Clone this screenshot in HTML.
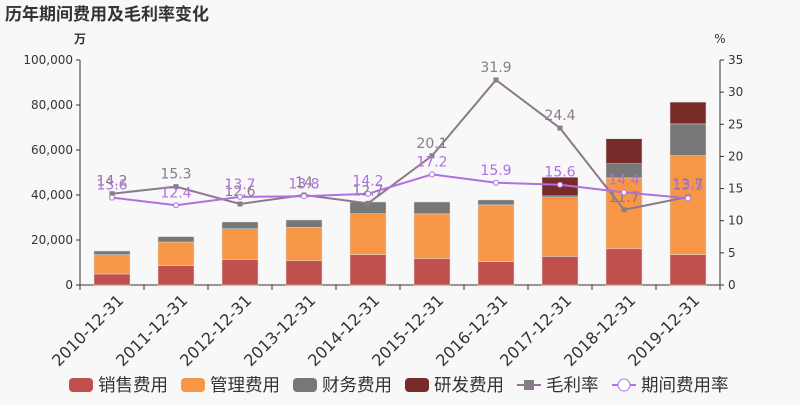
<!DOCTYPE html>
<html><head><meta charset="utf-8"><style>
body{margin:0;background:#f8f8f8;}
svg text{font-family:"DejaVu Sans","Noto Sans CJK SC",sans-serif;}
</style></head><body>
<svg id="c" width="800" height="400" xmlns="http://www.w3.org/2000/svg">
<rect width="800" height="400" fill="#f8f8f8"/>
<text x="5" y="20" font-size="17" font-weight="bold" fill="#333">历年期间费用及毛利率变化</text>
<text x="80" y="43" font-size="12" fill="#333" text-anchor="middle" font-weight="bold">万</text>
<text x="720" y="43" font-size="12" fill="#333" text-anchor="middle">%</text>
<g id="g"></g>
</svg>
<script>
const categories=["2010-12-31","2011-12-31","2012-12-31","2013-12-31","2014-12-31","2015-12-31","2016-12-31","2017-12-31","2018-12-31","2019-12-31"];
const sales=[4900,8600,11300,10800,13500,11700,10400,12700,16100,13500];
const admin=[8600,10500,13700,14800,18200,19900,25200,26100,31500,44000];
const finance=[1600,2400,3000,3300,5200,5300,2200,800,6300,14100];
const rnd=[0,0,0,0,0,0,0,8300,11100,9700];
const grossMargin=[14.2,15.3,12.6,14,12.7,20.1,31.9,24.4,11.7,13.7];
const expenseRate=[13.6,12.4,13.7,13.8,14.2,17.2,15.9,15.6,14.4,13.5];
const leftTicks=[0,20000,40000,60000,80000,100000];
const rightTicks=[0,5,10,15,20,25,30,35];
const NS="http://www.w3.org/2000/svg";
const g=document.getElementById('g');
const X0=80,X1=720,Y0=285,Y1=60;
const bw=(X1-X0)/categories.length;
const yL=v=>Y0-(v/100000)*(Y0-Y1);
const yR=v=>Y0-(v/35)*(Y0-Y1);
const xC=i=>X0+bw*(i+0.5);
function el(t,a,p){const e=document.createElementNS(NS,t);for(const k in a)e.setAttribute(k,a[k]);(p||g).appendChild(e);return e;}
let ax=el('line',{x1:X0,y1:Y1,x2:X0,y2:Y0,stroke:'#333'});


let ax2=el('line',{x1:X1,y1:Y1,x2:X1,y2:Y0,stroke:'#333'});


let ax3=el('line',{x1:X0,y1:Y0,x2:X1,y2:Y0,stroke:'#333'});


leftTicks.forEach(v=>{const y=yL(v);el('line',{x1:X0-4,y1:y,x2:X0,y2:y,stroke:'#333'});
 const t=el('text',{x:X0-7,y:y+4,'font-size':12,fill:'#333','text-anchor':'end'});t.textContent=v.toLocaleString('en-US');
 
 });
rightTicks.forEach(v=>{const y=yR(v);el('line',{x1:X1,y1:y,x2:X1+4,y2:y,stroke:'#333'});
 const t=el('text',{x:X1+8,y:y+4,'font-size':12,fill:'#333'});t.textContent=v;
 
 });
for(let i=0;i<=categories.length;i++){const x=X0+bw*i;el('line',{x1:x,y1:Y0,x2:x,y2:Y0+5,stroke:'#333'});}
const series=[[sales,'#c0504d','sales'],[admin,'#f79646','admin'],[finance,'#777777','finance'],[rnd,'#772c2a','rnd']];
categories.forEach((c,i)=>{
 let cum=0;
 series.forEach(([arr,col,n])=>{const v=arr[i];if(v<=0)return;
  const r=el('rect',{x:xC(i)-18,y:yL(cum+v),width:36,height:yL(cum)-yL(cum+v),fill:col,stroke:'#ddd','stroke-width':0.5});
  
  
  cum+=v;});
 const t=el('text',{transform:`translate(${xC(i)+4},${Y0+8}) rotate(-45)`,'font-size':16,fill:'#333','text-anchor':'end','dominant-baseline':'hanging'});
 t.textContent=c;
 
 
});
function line(arr,col,n,circle){
 const p=el('polyline',{points:arr.map((v,i)=>xC(i)+','+yR(v)).join(' '),fill:'none',stroke:col,'stroke-width':2});
 
 
 arr.forEach((v,i)=>{
  const m=circle?el('circle',{cx:xC(i),cy:yR(v),r:2.5,fill:'#fff',stroke:col}):el('rect',{x:xC(i)-2.5,y:yR(v)-2.5,width:5,height:5,fill:col});
  
  
  const t=el('text',{x:xC(i),y:yR(v)-8,'font-size':14,fill:col,'text-anchor':'middle'});t.textContent=v;
  
  
 });
}
line(grossMargin,'#8b7a8b','gross-margin',false);
line(expenseRate,'#b070e0','expense-rate',true);
const leg=[['销售费用','#c0504d','rect'],['管理费用','#f79646','rect'],['财务费用','#777777','rect'],['研发费用','#772c2a','rect'],['毛利率','#8b7a8b','line'],['期间费用率','#b070e0','circle']];
const legX=[69,181,293,405,517,612];
leg.forEach(([name,col,k],j)=>{
 const lx=legX[j];
 const gg=el('g',{});
 
 
 if(k==='rect')el('rect',{x:lx,y:378,width:24,height:14,rx:4,fill:col},gg);
 else{el('line',{x1:lx,y1:385,x2:lx+24,y2:385,stroke:col,'stroke-width':2},gg);
  if(k==='line')el('rect',{x:lx+7,y:380,width:10,height:10,fill:col},gg);
  else el('circle',{cx:lx+12,cy:385,r:6,fill:'#fff',stroke:col},gg);}
 const t=el('text',{x:lx+29,y:391,'font-size':17.5,fill:'#333'},gg);t.textContent=name;
});
</script>
</body></html>
